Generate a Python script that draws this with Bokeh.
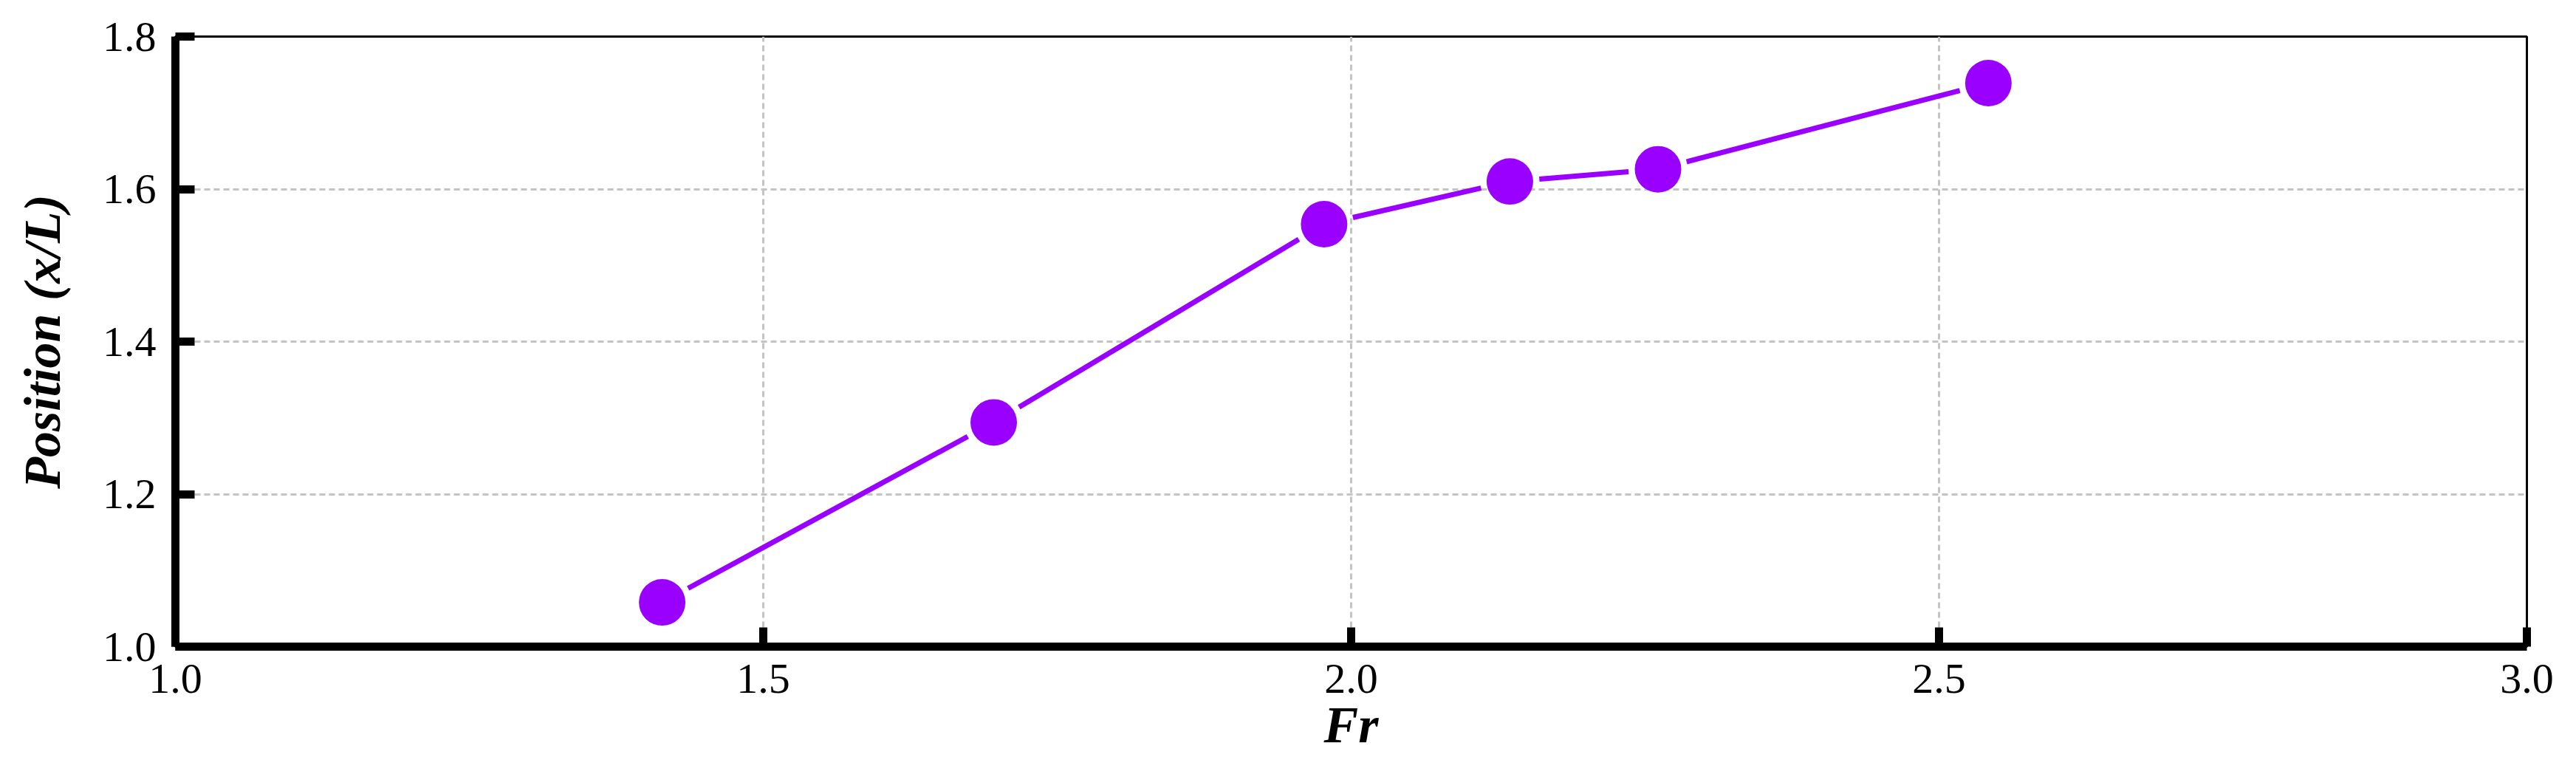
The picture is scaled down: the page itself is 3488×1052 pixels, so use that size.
import numpy as np
from bokeh.plotting import figure
from bokeh.models import Range1d, FixedTicker, PrintfTickFormatter
from bokeh.embed import file_html
from bokeh.resources import INLINE

# ---- data ----
froude = [1.414, 1.696, 1.977, 2.135, 2.261, 2.542]
position = [1.058, 1.294, 1.554, 1.610, 1.626, 1.739]
x_ticks = [1.0, 1.5, 2.0, 2.5, 3.0]
y_ticks = [1.0, 1.2, 1.4, 1.6, 1.8]
x_title = "Fr"
y_title = "Position (x/L)"

X0, X1 = 1.0, 3.0
Y0, Y1 = 1.0, 1.8
FW, FH = 3184, 826

p = figure(frame_width=FW, frame_height=FH, output_backend="svg", toolbar_location=None,
           x_range=Range1d(X0, X1), y_range=Range1d(Y0, Y1),
           min_border_left=237, min_border_right=43, min_border_top=49, min_border_bottom=153)
p.background_fill_color = "white"
p.border_fill_color = "white"
p.outline_line_color = "black"
p.outline_line_width = 3

for ax, ticks in ((p.xaxis[0], x_ticks), (p.yaxis[0], y_ticks)):
    ax.ticker = FixedTicker(ticks=ticks)
    ax.formatter = PrintfTickFormatter(format="%.1f")
    ax.axis_line_width = 11
    ax.axis_line_color = "black"
    ax.major_tick_line_width = 11
    ax.major_tick_line_color = "black"
    ax.major_tick_in = 26
    ax.major_tick_out = 0
    ax.minor_tick_line_color = None
    ax.major_label_text_font = "Liberation Serif"
    ax.major_label_text_font_size = "58px"
    ax.major_label_text_color = "black"
    ax.axis_label_text_font = "Liberation Serif"
    ax.axis_label_text_font_style = "bold italic"
    ax.axis_label_text_font_size = "70px"
    ax.axis_label_text_color = "black"

p.xaxis.axis_label = x_title
p.yaxis.axis_label = y_title
p.xaxis.major_label_standoff = 24
p.yaxis.major_label_standoff = 26
p.xaxis.axis_label_standoff = 2
p.yaxis.axis_label_standoff = 40

for g in (p.xgrid[0], p.ygrid[0]):
    g.grid_line_color = "#c4c4c4"
    g.grid_line_width = 3
    g.grid_line_dash = "8 5"

# line segments with a small gap around each marker (gap in screen pixels)
gap = 40.0
sx = FW / (X1 - X0)
sy = FH / (Y1 - Y0)
xa = np.array(froude)
ya = np.array(position)
dx = (xa[1:] - xa[:-1]) * sx
dy = (ya[1:] - ya[:-1]) * sy
L = np.hypot(dx, dy)
t = gap / L
x0s = xa[:-1] + t * (xa[1:] - xa[:-1])
y0s = ya[:-1] + t * (ya[1:] - ya[:-1])
x1s = xa[1:] - t * (xa[1:] - xa[:-1])
y1s = ya[1:] - t * (ya[1:] - ya[:-1])
p.segment(x0s, y0s, x1s, y1s, line_color="#9900FF", line_width=7)

p.scatter(froude, position, size=63, marker="circle", fill_color="#9900FF", line_color=None)

open("out.html", "w").write(file_html(p, INLINE))
